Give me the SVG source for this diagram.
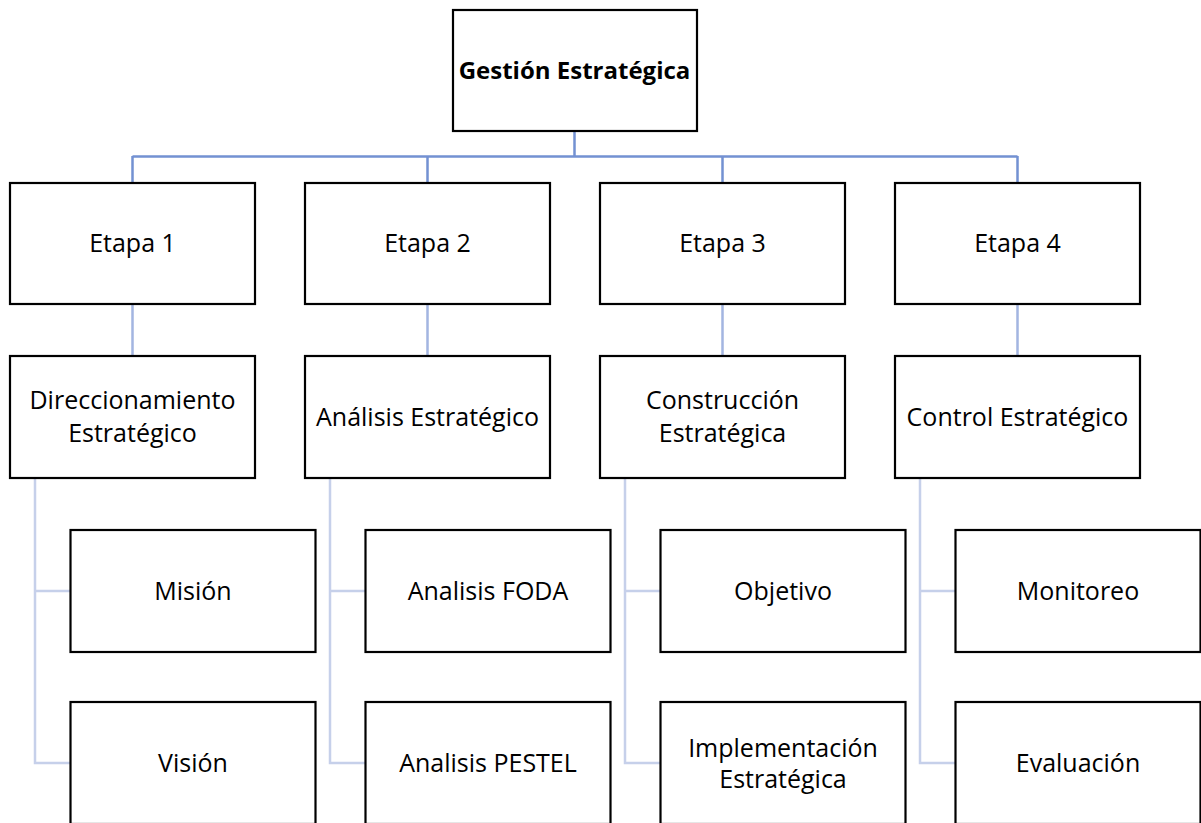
<svg xmlns="http://www.w3.org/2000/svg" width="1201" height="823" viewBox="0 0 1201 823">
<style>
.box{fill:#fff;stroke:#000;stroke-width:2.2}
.t{font-family:"Open Sans","Liberation Sans",sans-serif;font-size:25px;fill:#000;text-anchor:middle}
.tb{font-weight:bold;font-size:24px}
.c1{fill:none;stroke:#7391D2;stroke-width:2.5}
.c2{fill:none;stroke:#A3B5E1;stroke-width:2.5}
.c3{fill:none;stroke:#C6D0EA;stroke-width:2.5}
</style>
<rect width="1201" height="823" fill="#fff"/>
<g id="connectors">
<path class="c1" d="M574.5 131V156.5M132.5 156.5H1017.5M132.5 156V183M427.5 156V183M722.5 156V183M1017.5 156V183"/>
<path class="c2" d="M132.5 304V356M427.5 304V356M722.5 304V356M1017.5 304V356"/>
<path class="c3" d="M35 478V763H70.5M35 591H70.5M330 478V763H365.5M330 591H365.5M625 478V763H660.5M625 591H660.5M920 478V763H955.5M920 591H955.5"/>
</g>
<g id="n0"><rect class="box" x="453" y="10" width="244" height="121"/><text class="t tb" x="574.5" y="79">Gestión Estratégica</text></g>
<g id="e1"><rect class="box" x="10" y="183" width="245" height="121"/><text class="t" x="132.5" y="252">Etapa 1</text></g>
<g id="e2"><rect class="box" x="305" y="183" width="245" height="121"/><text class="t" x="427.5" y="252">Etapa 2</text></g>
<g id="e3"><rect class="box" x="600" y="183" width="245" height="121"/><text class="t" x="722.5" y="252">Etapa 3</text></g>
<g id="e4"><rect class="box" x="895" y="183" width="245" height="121"/><text class="t" x="1017.5" y="252">Etapa 4</text></g>
<g id="s1"><rect class="box" x="10" y="356" width="245" height="122"/><text class="t" x="132.5" y="409">Direccionamiento</text><text class="t" x="132.5" y="441.5">Estratégico</text></g>
<g id="s2"><rect class="box" x="305" y="356" width="245" height="122"/><text class="t" x="427.5" y="425.5">Análisis Estratégico</text></g>
<g id="s3"><rect class="box" x="600" y="356" width="245" height="122"/><text class="t" x="722.5" y="409">Construcción</text><text class="t" x="722.5" y="441.5">Estratégica</text></g>
<g id="s4"><rect class="box" x="895" y="356" width="245" height="122"/><text class="t" x="1017.5" y="425.5">Control Estratégico</text></g>
<g id="m1"><rect class="box" x="70.5" y="530" width="245" height="122"/><text class="t" x="193" y="599.5">Misión</text></g>
<g id="v1"><rect class="box" x="70.5" y="702" width="245" height="122"/><text class="t" x="193" y="771.5">Visión</text></g>
<g id="m2"><rect class="box" x="365.5" y="530" width="245" height="122"/><text class="t" x="488" y="599.5">Analisis FODA</text></g>
<g id="v2"><rect class="box" x="365.5" y="702" width="245" height="122"/><text class="t" x="488" y="771.5">Analisis PESTEL</text></g>
<g id="m3"><rect class="box" x="660.5" y="530" width="245" height="122"/><text class="t" x="783" y="599.5">Objetivo</text></g>
<g id="v3"><rect class="box" x="660.5" y="702" width="245" height="122"/><text class="t" x="783" y="756.5">Implementación</text><text class="t" x="783" y="787.5">Estratégica</text></g>
<g id="m4"><rect class="box" x="955.5" y="530" width="245" height="122"/><text class="t" x="1078" y="599.5">Monitoreo</text></g>
<g id="v4"><rect class="box" x="955.5" y="702" width="245" height="122"/><text class="t" x="1078" y="771.5">Evaluación</text></g>
</svg>
